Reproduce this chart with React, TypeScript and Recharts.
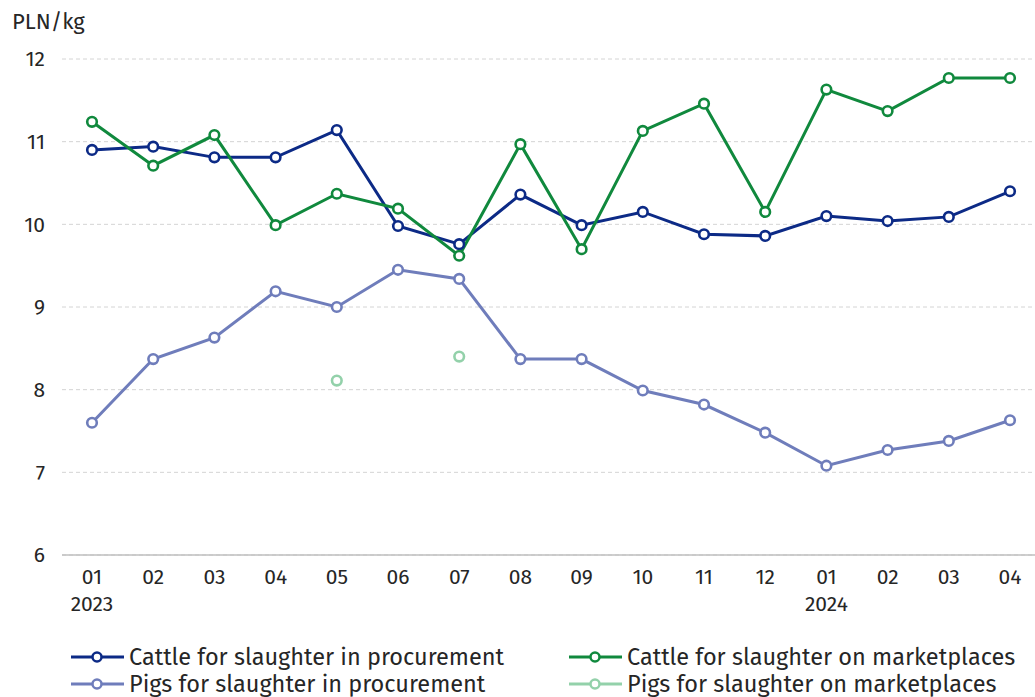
import React from 'react';
import { LineChart, Line, XAxis, YAxis, CartesianGrid, ReferenceLine } from 'recharts';

const months = ['01', '02', '03', '04', '05', '06', '07', '08', '09', '10', '11', '12', '01', '02', '03', '04'];
const years = ['2023', '', '', '', '', '', '', '', '', '', '', '', '2024', '', '', ''];

const cattleProcurement = [10.90, 10.94, 10.81, 10.81, 11.14, 9.98, 9.76, 10.36, 9.99, 10.15, 9.88, 9.86, 10.10, 10.04, 10.09, 10.40];
const cattleMarket = [11.24, 10.71, 11.08, 9.99, 10.37, 10.19, 9.62, 10.97, 9.70, 11.13, 11.46, 10.15, 11.63, 11.37, 11.77, 11.77];
const pigsProcurement = [7.60, 8.37, 8.63, 9.19, 9.00, 9.45, 9.34, 8.37, 8.37, 7.99, 7.82, 7.48, 7.08, 7.27, 7.38, 7.63];
const pigsMarket = [null, null, null, null, 8.11, null, 8.40, null, null, null, null, null, null, null, null, null];

const yTicks = [6, 7, 8, 9, 10, 11, 12];

const FONT = '"Fira Sans", "Noto Sans", sans-serif';
const TEXT = '#262626';

const series = [
  { key: 'cattleProcurement', name: 'Cattle for slaughter in procurement', color: '#0c2a86' },
  { key: 'cattleMarket', name: 'Cattle for slaughter on marketplaces', color: '#10893d' },
  { key: 'pigsProcurement', name: 'Pigs for slaughter in procurement', color: '#6f7dbb' },
  { key: 'pigsMarket', name: 'Pigs for slaughter on marketplaces', color: '#93d1aa' },
];

const data = months.map((m, i) => ({
  idx: i,
  month: m,
  year: years[i],
  cattleProcurement: cattleProcurement[i],
  cattleMarket: cattleMarket[i],
  pigsProcurement: pigsProcurement[i],
  pigsMarket: pigsMarket[i],
}));

const MonthTick = (props: any) => {
  const { x, y, payload } = props;
  const i = payload.value as number;
  return (
    <g transform={`translate(${x},${y})`}>
      <text x={0} y={0} dy={21} textAnchor="middle" fill={TEXT} fontSize={21} fontFamily={FONT}>
        {months[i]}
      </text>
      {years[i] && (
        <text x={0} y={0} dy={48} textAnchor="middle" fill={TEXT} fontSize={21} fontFamily={FONT}>
          {years[i]}
        </text>
      )}
    </g>
  );
};

const LegendItem = ({ color, name }: { color: string; name: string }) => (
  <div style={{ display: 'flex', alignItems: 'center', height: 27 }}>
    <svg width={56} height={14} style={{ marginRight: 3 }}>
      <line x1={1} y1={7} x2={54} y2={7} stroke={color} strokeWidth={3} />
      <circle cx={27} cy={7} r={4.5} fill="#fff" stroke={color} strokeWidth={2.5} />
    </svg>
    <span style={{ whiteSpace: 'nowrap' }}>{name}</span>
  </div>
);

const App: React.FC = () => {
  return (
    <div style={{ position: 'absolute', left: 0, top: 0, width: 1035, height: 697, overflow: 'hidden', background: '#fff', fontFamily: FONT, color: TEXT }}>
      <div style={{ position: 'absolute', left: 12, top: 8, fontSize: 22 }}>PLN/kg</div>
      <LineChart width={1035} height={697} data={data} margin={{ top: 59, right: 0, left: 0, bottom: 82 }}>
        <CartesianGrid vertical={false} strokeDasharray="4 3" stroke="#d4d4d4" />
        <XAxis
          dataKey="idx"
          type="category"
          tick={<MonthTick />}
          interval={0}
          tickLine={false}
          axisLine={false}
          height={60}
          padding={{ left: 30, right: 25 }}
        />
        <YAxis
          domain={[6, 12]}
          ticks={yTicks}
          width={62}
          tickLine={false}
          axisLine={false}
          tickSize={0}
          tickMargin={17}
          tick={{ fill: TEXT, fontSize: 21, fontFamily: FONT }}
        />
        <ReferenceLine y={6} stroke="#bfbfbf" strokeWidth={1.5} />
        {series.map(s => (
          <Line
            key={s.key}
            dataKey={s.key}
            name={s.name}
            stroke={s.color}
            strokeWidth={3}
            dot={{ r: 4.8, fill: '#fff', stroke: s.color, strokeWidth: 2.6 }}
            activeDot={false}
            connectNulls={false}
            isAnimationActive={false}
          />
        ))}
      </LineChart>
      <div style={{ position: 'absolute', left: 70, top: 643, fontSize: 23.5, display: 'grid', gridTemplateColumns: '498px 460px' }}>
        <LegendItem color={series[0].color} name={series[0].name} />
        <LegendItem color={series[1].color} name={series[1].name} />
        <LegendItem color={series[2].color} name={series[2].name} />
        <LegendItem color={series[3].color} name={series[3].name} />
      </div>
    </div>
  );
};

export default App;
